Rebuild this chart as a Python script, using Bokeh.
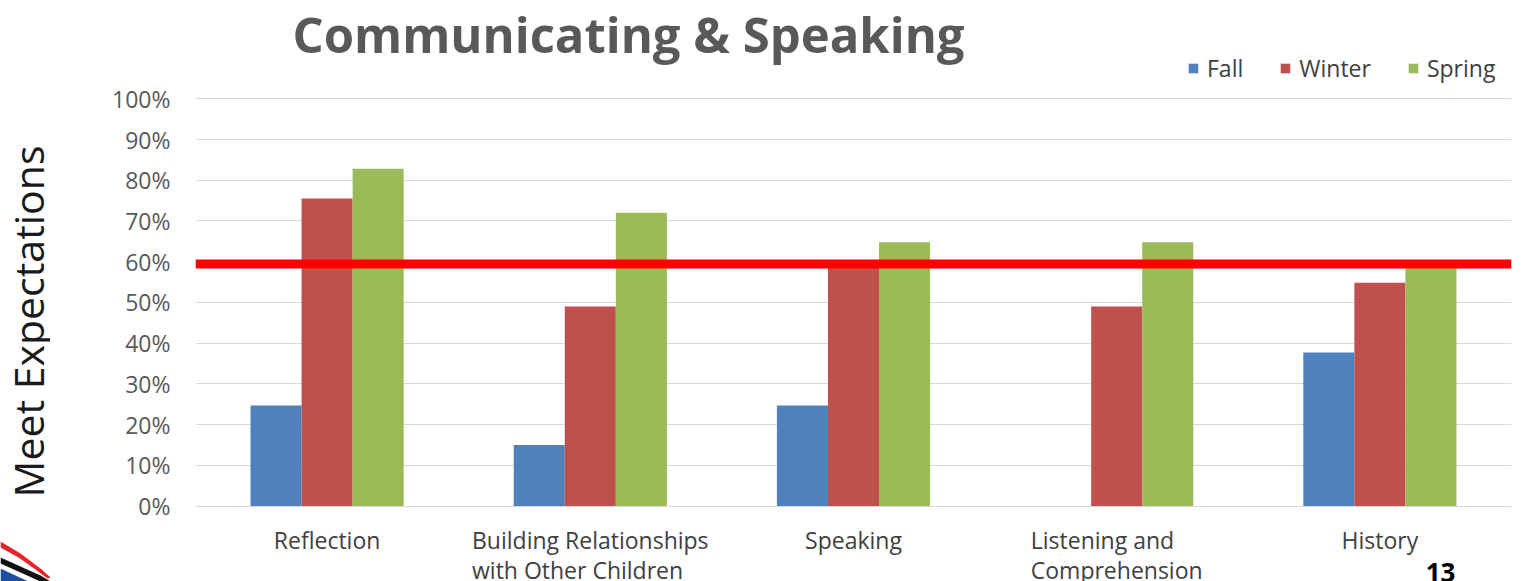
import math
from bokeh.plotting import figure
from bokeh.layouts import row
from bokeh.models import (ColumnDataSource, FactorRange, Range1d, Legend, LegendItem,
                          Label, LabelSet, BoxAnnotation, NumeralTickFormatter, FixedTicker)
from bokeh.core.properties import value
from bokeh.transform import dodge
from bokeh.embed import file_html
from bokeh.resources import INLINE

# ---- data ----
categories = ["Reflection", "Building Relationships\nwith Other Children", "Speaking",
              "Listening and\nComprehension", "History"]
series = ["Fall", "Winter", "Spring"]
fall = [0.247, 0.15, 0.247, 0.0, 0.377]
winter = [0.755, 0.49, 0.59, 0.49, 0.548]
spring = [0.828, 0.72, 0.648, 0.648, 0.59]
target = 0.594
y_ticks = [0.0, 0.1, 0.2, 0.3, 0.4, 0.5, 0.6, 0.7, 0.8, 0.9, 1.0]
title_text = "Communicating & Speaking"
y_label = "Meet Expectations"
page_number = "13"

colors = ["#4F81BD", "#C0504D", "#9BBB59"]
FONT = "Open Sans"
W, H = 1529, 581
LW = 50

# ---- narrow left panel: vertical axis title and slide logo ----
lp = figure(width=LW, height=H, output_backend="svg", toolbar_location=None,
            x_range=Range1d(0, LW), y_range=Range1d(H, 0),
            min_border=0, outline_line_color=None, title=None)
lp.axis.visible = False
lp.grid.visible = False
lp.text(x=[27], y=[321], text=[y_label], angle=math.pi / 2, text_align="center",
        text_baseline="middle", text_font=value(FONT), text_font_size="41px",
        text_color="#1a1a1a")
# decorative logo swooshes (bottom-left corner of the slide)
lp.patch([0, 20, 40, 50, 47, 35, 18, 0], [541, 553, 568, 577, 578, 569, 557, 547],
         fill_color="#E8242B", line_color=None)
lp.patch([0, 20, 40, 50, 40, 20, 0], [557, 566, 575, 581, 581, 572, 563],
         fill_color="#111111", line_color=None)
lp.patch([0, 15, 28, 0], [568, 575, 581, 581], fill_color="#1F4FA0", line_color=None)

# ---- main chart ----
src = ColumnDataSource(dict(cat=categories, Fall=fall, Winter=winter, Spring=spring))

# the frame spans the full height; 0..100% occupies the band the reference uses
px_per_unit = 407.2
y_zero_px = 505.5
y_top = y_zero_px / px_per_unit
y_bot = -(H - y_zero_px) / px_per_unit

p = figure(width=W - LW, height=H, output_backend="svg", toolbar_location=None,
           x_range=FactorRange(*categories, range_padding=0), y_range=Range1d(y_bot, y_top),
           min_border_left=145, min_border_right=18, min_border_top=0, min_border_bottom=0,
           outline_line_color=None, title=None)

bw = 0.194
offsets = [-bw, 0.0, bw]
items = []
for name, col, off in zip(series, colors, offsets):
    r = p.vbar(x=dodge("cat", off, range=p.x_range), top=name, width=bw, source=src,
               fill_color=col, line_color=None)
    items.append(LegendItem(label=name, renderers=[r]))

p.xgrid.grid_line_color = None
p.ygrid.ticker = FixedTicker(ticks=y_ticks)
p.ygrid.grid_line_color = "#D9D9D9"
p.ygrid.grid_line_width = 1

p.yaxis.ticker = FixedTicker(ticks=y_ticks)
p.yaxis.formatter = NumeralTickFormatter(format="0%")
p.yaxis.axis_line_color = None
p.yaxis.major_tick_line_color = None
p.yaxis.minor_tick_line_color = None
p.yaxis.major_tick_out = 0
p.yaxis.major_tick_in = 0
p.yaxis.minor_tick_out = 0
p.yaxis.major_label_standoff = 25
p.yaxis.major_label_text_font = FONT
p.yaxis.major_label_text_font_size = "23px"
p.yaxis.major_label_text_color = "#595959"

p.xaxis.visible = False

# category labels under the groups
p.add_layout(LabelSet(x="cat", y=-0.043, text="cat", source=src,
                      text_align="center", text_baseline="top", text_font=value(FONT),
                      text_font_size="23px", text_color="#404040", text_line_height=0.96))

# target line
p.add_layout(BoxAnnotation(top=target, bottom=target,
                           fill_color=None, fill_alpha=0, line_color="#FF0000",
                           line_alpha=1.0, line_width=9, level="overlay"))

# title
p.add_layout(Label(x=433, x_units="screen", y=1.158, text=title_text,
                   text_align="center", text_baseline="middle", text_font=FONT,
                   text_font_size="49px", text_font_style="bold", text_color="#595959"))

# page number
p.add_layout(Label(x=1245, x_units="screen", y=-0.141, text=page_number,
                   text_align="center", text_baseline="top", text_font=FONT,
                   text_font_size="26px", text_font_style="bold", text_color="#000000"))

legend = Legend(items=items, orientation="horizontal", location=(992, 497),
                padding=0, margin=0, border_line_color=None, background_fill_alpha=0,
                glyph_width=12, glyph_height=12, label_standoff=8, spacing=36,
                label_text_font=FONT, label_text_font_size="23px",
                label_text_color="#404040")
p.add_layout(legend)

layout = row(lp, p, spacing=0)
open("out.html", "w").write(file_html(layout, INLINE))
